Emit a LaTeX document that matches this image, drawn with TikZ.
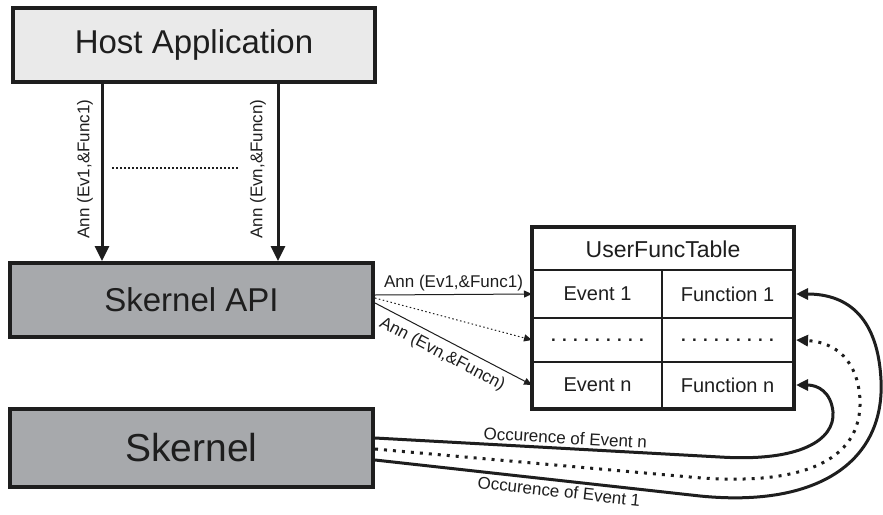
\documentclass[tikz,border=0pt]{standalone}
\usepackage{fontspec}
\setmainfont{Liberation Sans}
\usetikzlibrary{arrows.meta}
\definecolor{lightbox}{RGB}{234,234,234}
\definecolor{darkbox}{RGB}{167,169,172}
\definecolor{ink}{RGB}{30,30,30}
\begin{document}
\begin{tikzpicture}[x=1pt,y=-1pt,
  box/.style={draw=ink, line width=4pt, inner sep=0pt, text=ink},
  cell/.style={draw=ink, line width=2pt, inner sep=0pt, text=ink, font=\fontsize{20}{20}\selectfont},
  dotcell/.style={cell, font=\fontsize{17}{17}\selectfont\bfseries},
  bigarrow/.style={draw=ink, line width=3pt, -{Triangle[length=15pt,width=14pt]}},
  thinarrow/.style={draw=ink, line width=1pt, -{Triangle[length=8pt,width=7pt]}},
  curvearrow/.style={draw=ink, line width=3pt, -{Triangle[length=12pt,width=11pt]}},
  lbl/.style={font=\fontsize{17}{17}\selectfont, inner sep=2pt, text=ink},
]
\useasboundingbox (0,0) rectangle (883,514);
\fill[white] (0,0) rectangle (883,514);

% main boxes
\node[box, fill=lightbox, minimum width=362pt, minimum height=74pt,
      font=\fontsize{33}{33}\selectfont] (host) at (194,45) {Host Application};
\node[box, fill=darkbox, minimum width=363pt, minimum height=74pt,
      font=\fontsize{33}{33}\selectfont] (api) at (191.5,300) {Skernel API};
\node[box, fill=darkbox, minimum width=363pt, minimum height=78pt,
      font=\fontsize{39}{39}\selectfont] (sk) at (191.5,448) {Skernel};

% table
\node[cell, minimum width=260pt, minimum height=42pt, font=\fontsize{23}{23}\selectfont] (hdr) at (663,249) {UserFuncTable};
\node[cell, minimum width=129pt, minimum height=48pt] (e1) at (597.5,294) {Event 1};
\node[cell, minimum width=131pt, minimum height=48pt] (f1) at (727.5,294) {Function 1};
\node[dotcell, minimum width=129pt, minimum height=44pt] (d1) at (597.5,340) {. . . . . . . . .};
\node[dotcell, minimum width=131pt, minimum height=44pt] (d2) at (727.5,340) {. . . . . . . . .};
\node[cell, minimum width=129pt, minimum height=46pt] (en) at (597.5,385) {Event n};
\node[cell, minimum width=131pt, minimum height=46pt] (fn) at (727.5,385) {Function n};
\draw[draw=ink, line width=4pt] (hdr.north west) rectangle (fn.south east);

% vertical arrows host -> api
\coordinate (c1) at (102,0);
\coordinate (c2) at (278,0);
\draw[bigarrow] (host.south -| c1) -- (api.north -| c1);
\draw[bigarrow] (host.south -| c2) -- (api.north -| c2);
\node[lbl, rotate=90] (l1) at (85,169) {Ann (Ev1,\&Func1)};
\node[lbl, rotate=90] (l2) at (258,169) {Ann (Evn,\&Funcn)};
\coordinate (m1) at (112,168);
\coordinate (m2) at (239,168);
\draw[draw=ink, line width=2pt, dash pattern=on 2pt off 2pt] (m1) -- (m2);

% api -> table
\draw[thinarrow] ([yshift=5pt]api.east) -- node[lbl, above, inner sep=3pt] {Ann (Ev1,\&Func1)} (e1.west);
\draw[thinarrow, dash pattern=on 1.5pt off 2.5pt] ([yshift=2pt]api.east) -- (d1.west);
\draw[thinarrow] ([yshift=-3pt]api.east) -- node[lbl, sloped, below, pos=0.47, inner sep=6pt] {Ann (Evn,\&Funcn)} (en.west);

% skernel -> table curves
\draw[curvearrow] ([yshift=10pt]sk.east) -- node[lbl, sloped, above, pos=0.55, inner sep=3pt] {Occurence of Event n} (720,457)
   .. controls (800,462) and (835,440) .. (833,412)
   .. controls (831,392) and (818,385) .. ([xshift=2pt]fn.east);
\draw[curvearrow, dash pattern=on 3pt off 6pt] ([yshift=-1pt]sk.east) -- (690,477)
   .. controls (800,487) and (862,462) .. (860,400)
   .. controls (858,360) and (835,342) .. ([xshift=2pt]d2.east);
\draw[curvearrow] ([yshift=-12pt]sk.east) -- node[lbl, sloped, below, pos=0.57, inner sep=3pt] {Occurence of Event 1} (700,496)
   .. controls (820,508) and (885,460) .. (881,380)
   .. controls (878,320) and (850,294) .. ([xshift=2pt]f1.east);
\end{tikzpicture}
\end{document}
